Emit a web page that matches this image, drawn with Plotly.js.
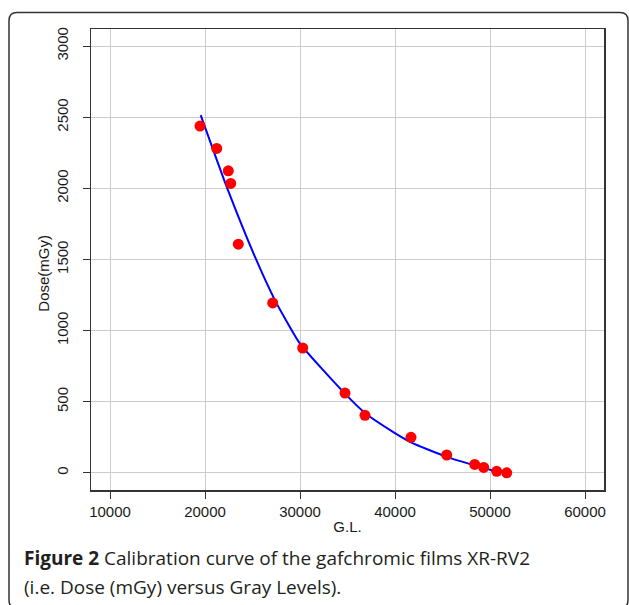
<!DOCTYPE html>
<html>
<head>
<meta charset="utf-8">
<script src="https://cdn.plot.ly/plotly-3.0.1.min.js"></script>
<style>
html,body{margin:0;padding:0;background:#fff;}
#chart{width:629px;height:605px;}
</style>
</head>
<body>
<div id="chart"></div>
<script>
// Measured calibration points (Gray Level vs Dose in mGy)
var grayLevels = [19474, 21232, 22453, 22705, 23505, 27126, 30284, 34737, 36842, 41684, 45442, 48389, 49337, 50705, 51758];
var doses      = [2438, 2281, 2123, 2035, 1608, 1195, 878, 561, 405, 250, 126, 60, 39, 11, 1];

// Fitted calibration curve
var fitGL   = [19547, 22347, 25368, 27368, 28600, 30000, 34737, 36842, 39821, 41684, 45442, 48389, 50000, 51758];
var fitDose = [2515, 2000, 1502, 1213, 1065, 909, 557, 421, 287, 215, 113, 53, 23, 4];

var xTicks = [10000, 20000, 30000, 40000, 50000, 60000];
var yTicks = [0, 500, 1000, 1500, 2000, 2500, 3000];

var xTitle = "G.L.";
var yTitle = "Dose(mGy)";
var captionBold = "Figure 2";
var captionLine1 = " Calibration curve of the gafchromic films XR-RV2";
var captionLine2 = "(i.e. Dose (mGy) versus Gray Levels).";

var L = 91, R = 25, T = 29, B = 115;
var W = 629, H = 605;
var pw = W - L - R, ph = H - T - B;
function px(x){ return (x - L) / pw; }
function py(y){ return (H - B - y) / ph; }

var axisFont = {family: "Liberation Sans, Arial, sans-serif", size: 15, color: "#1a1a1a"};
var capFont = {family: "Open Sans, Noto Sans, sans-serif", size: 19, color: "#231f20"};

var traces = [
  {
    x: fitGL, y: fitDose, type: "scatter", mode: "lines",
    line: {color: "#0000ff", width: 2, shape: "spline", smoothing: 0.6},
    hoverinfo: "skip", showlegend: false
  },
  {
    x: grayLevels, y: doses, type: "scatter", mode: "markers",
    marker: {color: "#ff0000", size: 11, line: {width: 0}},
    showlegend: false
  }
];

// Rounded outer frame (in paper coordinates)
var bx0 = px(9), bx1 = px(628), by0 = py(12.5), by1 = py(608);
var rx = 8 / pw, ry = 8 / ph;
var framePath = "M " + bx0 + "," + (by0 - ry) +
  " Q " + bx0 + "," + by0 + " " + (bx0 + rx) + "," + by0 +
  " L " + (bx1 - rx) + "," + by0 +
  " Q " + bx1 + "," + by0 + " " + bx1 + "," + (by0 - ry) +
  " L " + bx1 + "," + (by1 + ry) +
  " Q " + bx1 + "," + by1 + " " + (bx1 - rx) + "," + by1 +
  " L " + (bx0 + rx) + "," + by1 +
  " Q " + bx0 + "," + by1 + " " + bx0 + "," + (by1 + ry) + " Z";

var layout = {
  width: W, height: H,
  margin: {l: L, r: R, t: T, b: B},
  paper_bgcolor: "#fff", plot_bgcolor: "#fff",
  showlegend: false,
  xaxis: {
    range: [8000, 62000],
    tickvals: xTicks, ticktext: xTicks.map(String),
    ticks: "outside", ticklen: 7, tickwidth: 1, tickcolor: "#333",
    showgrid: true, gridcolor: "#cccccc", gridwidth: 1,
    zeroline: false,
    showline: true, linecolor: "#333", linewidth: 1.5, mirror: true,
    tickfont: axisFont,
    title: {text: xTitle, font: axisFont, standoff: 3}
  },
  yaxis: {
    range: [-120, 3120],
    tickvals: yTicks, ticktext: yTicks.map(String),
    tickangle: -90,
    ticks: "outside", ticklen: 7, tickwidth: 1, tickcolor: "#333",
    ticklabelstandoff: 9,
    showgrid: true, gridcolor: "#cccccc", gridwidth: 1,
    zeroline: false,
    showline: true, linecolor: "#333", linewidth: 1.5, mirror: true,
    tickfont: axisFont
  },
  shapes: [
    {type: "path", xref: "paper", yref: "paper", path: framePath,
     line: {color: "#333", width: 1.5}, fillcolor: "rgba(0,0,0,0)", layer: "below"}
  ],
  annotations: [
    {xref: "paper", yref: "paper", x: px(42.7), y: py(273), text: yTitle,
     showarrow: false, textangle: -90, font: axisFont, xanchor: "center", yanchor: "middle"},
    {xref: "paper", yref: "paper", x: px(22), y: py(558),
     text: "<b>" + captionBold + "</b>" + captionLine1, showarrow: false,
     xanchor: "left", yanchor: "middle", align: "left", font: capFont},
    {xref: "paper", yref: "paper", x: px(22), y: py(587),
     text: captionLine2, showarrow: false,
     xanchor: "left", yanchor: "middle", align: "left", font: capFont}
  ]
};

Plotly.newPlot("chart", traces, layout, {displayModeBar: false, staticPlot: true});
</script>
</body>
</html>
